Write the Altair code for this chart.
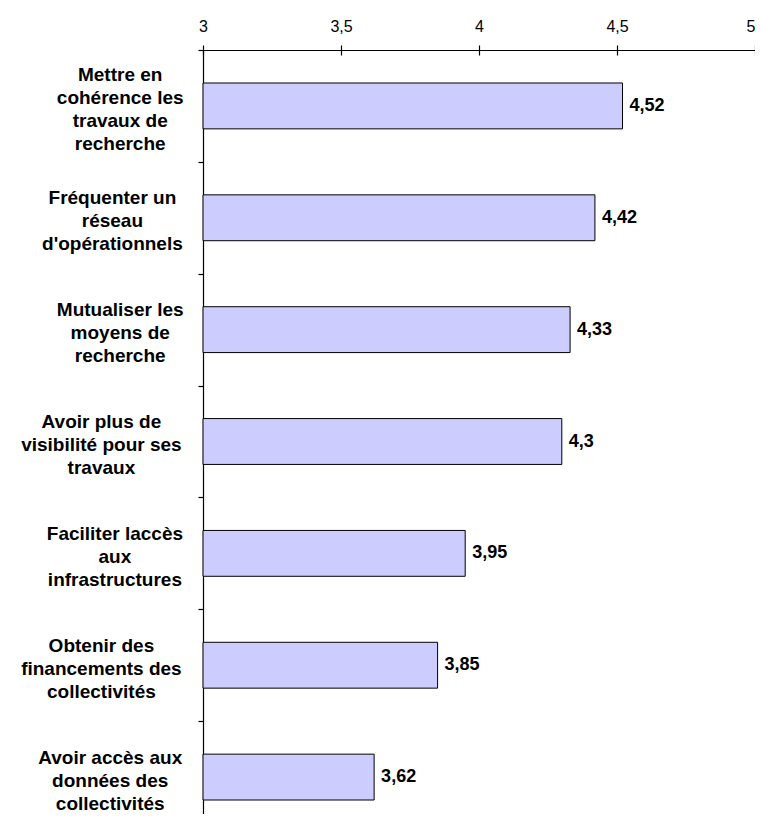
import json
import altair as alt
import pandas as pd

categories = [
    "Mettre en|cohérence les|travaux de|recherche",
    "Fréquenter un|réseau|d'opérationnels",
    "Mutualiser les|moyens de|recherche",
    "Avoir plus de|visibilité pour ses|travaux",
    "Faciliter laccès|aux|infrastructures",
    "Obtenir des|financements des|collectivités",
    "Avoir accès aux|données des|collectivités",
]
values = [4.52, 4.42, 4.33, 4.3, 3.95, 3.85, 3.62]
x_ticks = [3, 3.5, 4, 4.5, 5]

df = pd.DataFrame({"cat": categories, "value": values})

W = 552          # plot width
H = 764          # visible plot height (page is cropped like the reference)
BAND_RANGE = 783  # full extent of the 7 category bands
STEP = BAND_RANGE / len(categories)
FONT = "Liberation Sans"
LABEL_SIZE = 19
LINE_H = 23
TICK = 5

# Arial/Liberation Sans Bold advance widths (1/1000 em), used to place each
# wrapped label block flush right with its lines centred, as in the original.
_AW = {" ": 278, "'": 238, "a": 556, "b": 611, "c": 556, "d": 611, "e": 556,
       "f": 333, "g": 611, "h": 611, "i": 278, "j": 278, "k": 556, "l": 278,
       "m": 889, "n": 611, "o": 611, "p": 611, "q": 611, "r": 389, "s": 556,
       "t": 333, "u": 611, "v": 556, "w": 778, "x": 556, "y": 556, "z": 500,
       "é": 556, "è": 556, "A": 722, "F": 611, "M": 833, "O": 778}


def block_em(label):
    return max(sum(_AW.get(ch, 556) for ch in line) / 1000.0
               for line in label.split("|"))


RIGHT_GAP = 13      # gap between block's right edge and the axis
WIDE = 1.14 * 18.5  # reference rendering is a little wider than Arial
pads = [round(RIGHT_GAP + WIDE * block_em(c) / 2 - TICK, 1) for c in categories]
pad_expr = f"{json.dumps(pads)}[indexof({json.dumps(categories, ensure_ascii=False)}, datum.value)]"

x_scale = alt.Scale(domain=[x_ticks[0], x_ticks[-1]], zero=False, nice=False)
y_scale = alt.Scale(paddingInner=0.59, paddingOuter=0.295, range=[0, BAND_RANGE])

y_axis = alt.Axis(
    title=None,
    labelExpr="split(datum.label, '|')",
    labelAlign="center",
    labelBaseline="middle",
    labelPadding=alt.ExprRef(expr=pad_expr),
    tickOffset=-STEP / 2,
    labelOffset=alt.ExprRef(
        expr=f"{STEP / 2} + 3 - (length(split(datum.value, '|')) - 1) * {LINE_H / 2}"
    ),
    tickSize=TICK,
    labelFont=FONT,
    labelFontWeight="bold",
    labelFontSize=LABEL_SIZE,
    labelLineHeight=LINE_H,
    labelLimit=400,
    labelColor="black",
    domainColor="black",
    domainWidth=1.2,
    tickColor="black",
    tickWidth=1.2,
)

bars = alt.Chart(df).mark_bar(
    fill="#CCCCFF", stroke="black", strokeWidth=1
).encode(
    y=alt.Y("cat:N", sort=None, scale=y_scale, axis=y_axis),
    x=alt.X(
        "value:Q",
        scale=x_scale,
        axis=alt.Axis(
            orient="top",
            values=x_ticks,
            labelExpr="replace(toString(datum.value), '.', ',')",
            labelAlign=alt.ExprRef(
                expr=f"datum.value >= {x_ticks[-1]} ? 'right' : 'center'"
            ),
            title=None,
            grid=False,
            tickSize=TICK,
            labelPadding=11,
            labelFont=FONT,
            labelFontSize=16,
            labelColor="black",
            domainColor="black",
            domainWidth=1.2,
            tickColor="black",
            tickWidth=1.2,
        ),
    ),
    x2=alt.datum(x_ticks[0]),
)

texts = alt.Chart(df).transform_calculate(
    lbl="replace(toString(datum.value), '.', ',')"
).mark_text(
    align="left", baseline="middle", dx=7, font=FONT, fontWeight="bold",
    fontSize=18, color="black"
).encode(
    y=alt.Y("cat:N", sort=None, scale=y_scale, axis=y_axis),
    x=alt.X(
        "value:Q",
        scale=x_scale,
        axis=alt.Axis(
            orient="bottom",
            offset=-H,
            values=x_ticks,
            labels=False,
            domain=False,
            title=None,
            grid=False,
            tickSize=TICK,
            tickColor="black",
            tickWidth=1.2,
        ),
    ),
    text="lbl:N",
)

chart = alt.layer(bars, texts).resolve_axis(x="independent").properties(
    width=W,
    height=H,
    autosize=alt.AutoSizeParams(type="none"),
    padding={"left": 195, "top": 42, "right": 0, "bottom": 0},
).configure(background="white").configure_view(stroke=None)

chart.save("out.html", embed_options={"renderer": "svg", "actions": False})
